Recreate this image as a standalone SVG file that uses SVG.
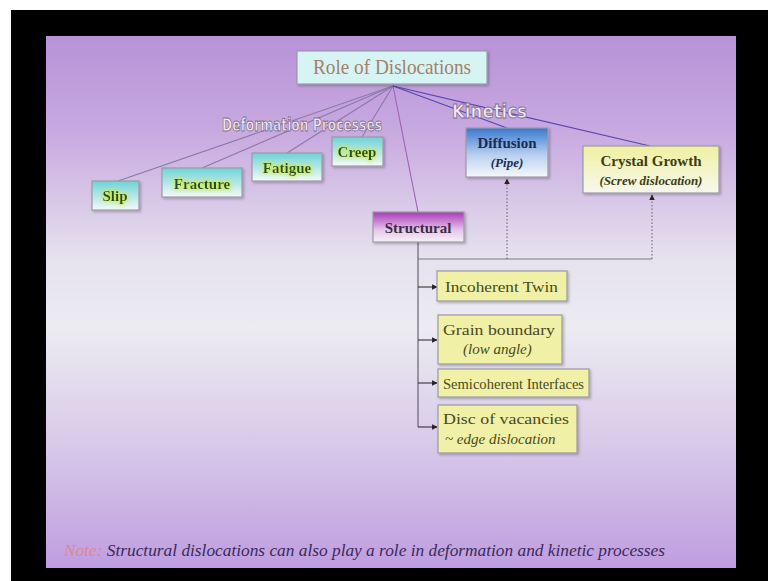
<svg xmlns="http://www.w3.org/2000/svg" width="768" height="581" viewBox="0 0 768 581">
<defs>
<linearGradient id="bg" x1="0" y1="0" x2="0" y2="1">
<stop offset="0" stop-color="#b792d8"/>
<stop offset="0.18" stop-color="#c8a9e0"/>
<stop offset="0.42" stop-color="#e6e2ee"/>
<stop offset="0.55" stop-color="#ecebf1"/>
<stop offset="0.78" stop-color="#d6c7e8"/>
<stop offset="1" stop-color="#bf9de0"/>
</linearGradient>
<linearGradient id="cyan" x1="0" y1="0" x2="0" y2="1">
<stop offset="0" stop-color="#6fd2d6"/>
<stop offset="1" stop-color="#f4fafa"/>
</linearGradient>
<linearGradient id="blue" x1="0" y1="0" x2="0" y2="1">
<stop offset="0" stop-color="#3a78d0"/>
<stop offset="0.55" stop-color="#b8d0ee"/>
<stop offset="1" stop-color="#f6f8fc"/>
</linearGradient>
<linearGradient id="mag" x1="0" y1="0" x2="0" y2="1">
<stop offset="0" stop-color="#a838b8"/>
<stop offset="0.6" stop-color="#e6c6ea"/>
<stop offset="1" stop-color="#f6f2f6"/>
</linearGradient>
<linearGradient id="yel" x1="0" y1="0" x2="0" y2="1">
<stop offset="0" stop-color="#f0f0a0"/>
<stop offset="1" stop-color="#f8f8ee"/>
</linearGradient>
<filter id="glow" x="-20%" y="-40%" width="140%" height="180%">
<feMorphology in="SourceAlpha" operator="dilate" radius="1" result="d"/>
<feGaussianBlur in="d" stdDeviation="2" result="b"/>
<feFlood flood-color="#d0ec40" flood-opacity="0.85"/>
<feComposite in2="b" operator="in" result="g"/>
<feMerge><feMergeNode in="g"/><feMergeNode in="SourceGraphic"/></feMerge>
</filter>
<filter id="sh" x="-10%" y="-10%" width="130%" height="140%">
<feDropShadow dx="1.5" dy="1.5" stdDeviation="1" flood-color="#000" flood-opacity="0.25"/>
</filter>
<marker id="ah" viewBox="0 0 10 10" refX="9" refY="5" markerWidth="5" markerHeight="5" orient="auto">
<path d="M0,0 L10,5 L0,10 z" fill="#222"/>
</marker>
</defs>
<style>
text{font-family:"Liberation Serif","Times New Roman",serif}
.box{stroke:#9a9aa4;stroke-width:1.2;filter:url(#sh)}
.lab{font-weight:bold;text-anchor:middle}
.grn{fill:#24502c;font-size:15px;filter:url(#glow)}
.yl{font-size:15px;fill:#4a4a1c}
.it{font-style:italic}
.ghost{font-family:"Liberation Sans Narrow","DejaVu Sans Condensed",sans-serif;font-weight:bold;fill:#f2eaf4;stroke:#7e6e8a;stroke-width:0.8}
.ln{fill:none;stroke-width:1.1}
</style>
<rect x="0" y="0" width="768" height="581" fill="#ffffff"/>
<rect x="11" y="10" width="757" height="571" fill="#000000"/>
<rect x="46" y="36" width="690" height="532" fill="url(#bg)"/>

<g id="connectors">
<path class="ln" stroke="#8c78a8" d="M393,86 L118,181"/>
<path class="ln" stroke="#8c78a8" d="M393,86 L202,168"/>
<path class="ln" stroke="#8c78a8" d="M393,86 L287,153"/>
<path class="ln" stroke="#8c78a8" d="M393,86 L362,137"/>
<path class="ln" stroke="#a060b4" d="M393,86 L418,212"/>
<path class="ln" stroke="#4a4ab0" d="M393,86 L507,128"/>
<path class="ln" stroke="#5a44b0" d="M393,86 L650,146"/>
<path class="ln" stroke="#5a5a66" d="M418,242 L418,427"/>
<path class="ln" stroke="#7a7a84" d="M418,259 L652,259"/>
<path class="ln" stroke="#6a6a74" stroke-dasharray="1.5,2" marker-end="url(#ah)" d="M507,259 L507,179"/>
<path class="ln" stroke="#6a6a74" stroke-dasharray="1.5,2" marker-end="url(#ah)" d="M652,259 L652,195"/>
<path class="ln" stroke="#333" marker-end="url(#ah)" d="M418,287 L437,287"/>
<path class="ln" stroke="#333" marker-end="url(#ah)" d="M418,340 L437,340"/>
<path class="ln" stroke="#333" marker-end="url(#ah)" d="M418,383 L437,383"/>
<path class="ln" stroke="#333" marker-end="url(#ah)" d="M418,427 L437,427"/>
</g>

<g id="title">
<rect class="box" x="297" y="51" width="190" height="33" fill="#d6f4f4" stroke="#7090a8"/>
<text x="392" y="74" font-size="21" fill="#a4806a" text-anchor="middle" textLength="158" lengthAdjust="spacingAndGlyphs">Role of Dislocations</text>
</g>

<g id="label-deformation">
<text class="ghost" x="222" y="131" font-size="18" textLength="160" lengthAdjust="spacingAndGlyphs">Deformation Processes</text>
</g>
<g id="label-kinetics">
<text class="ghost" x="452" y="118" font-size="20" textLength="75" lengthAdjust="spacingAndGlyphs">Kinetics</text>
</g>

<g id="slip">
<rect class="box" x="92" y="181" width="47" height="29" fill="url(#cyan)"/>
<text class="lab grn" x="115" y="201">Slip</text>
</g>
<g id="fracture">
<rect class="box" x="162" y="168" width="80" height="29" fill="url(#cyan)"/>
<text class="lab grn" x="202" y="189">Fracture</text>
</g>
<g id="fatigue">
<rect class="box" x="252" y="153" width="70" height="28" fill="url(#cyan)"/>
<text class="lab grn" x="287" y="173">Fatigue</text>
</g>
<g id="creep">
<rect class="box" x="332" y="137" width="51" height="29" fill="url(#cyan)"/>
<text class="lab grn" x="357" y="157">Creep</text>
</g>

<g id="structural">
<rect class="box" x="373" y="212" width="91" height="30" fill="url(#mag)"/>
<text class="lab" x="418" y="233" font-size="15" fill="#3a2c40">Structural</text>
</g>

<g id="diffusion">
<rect class="box" x="466" y="128" width="82" height="49" fill="url(#blue)"/>
<text class="lab" x="507" y="148" font-size="15" fill="#1c2a52">Diffusion</text>
<text class="lab it" x="507" y="167" font-size="13" fill="#1c2a52">(Pipe)</text>
</g>

<g id="crystal-growth">
<rect class="box" x="583" y="146" width="136" height="47" fill="url(#yel)"/>
<text class="lab" x="651" y="166" font-size="15" fill="#3c3c14">Crystal Growth</text>
<text class="lab it" x="651" y="185" font-size="13" fill="#3c3c14">(Screw dislocation)</text>
</g>

<g id="incoherent-twin">
<rect class="box" x="437" y="271" width="130" height="30" fill="#f0f0a6"/>
<text class="yl" x="445" y="292" textLength="113" lengthAdjust="spacingAndGlyphs">Incoherent Twin</text>
</g>
<g id="grain-boundary">
<rect class="box" x="438" y="315" width="124" height="49" fill="#f0f0a6"/>
<text class="yl" x="443" y="335" textLength="112" lengthAdjust="spacingAndGlyphs">Grain boundary</text>
<text class="yl it" x="463" y="354" font-size="13">(low angle)</text>
</g>
<g id="semicoherent">
<rect class="box" x="438" y="369" width="151" height="28" fill="#f0f0a6"/>
<text class="yl" x="443" y="389" textLength="141" lengthAdjust="spacingAndGlyphs">Semicoherent Interfaces</text>
</g>
<g id="disc-vacancies">
<rect class="box" x="438" y="405" width="139" height="48" fill="#f0f0a6"/>
<text class="yl" x="443" y="424" textLength="126" lengthAdjust="spacingAndGlyphs">Disc of vacancies</text>
<text class="yl it" x="445" y="444" font-size="12.5">~ edge dislocation</text>
</g>

<g id="note">
<text x="64" y="556" font-size="16.5" font-style="italic" textLength="601" lengthAdjust="spacingAndGlyphs"><tspan fill="#e08890">Note: </tspan><tspan fill="#3a2a5a">Structural dislocations can also play a role in deformation and kinetic processes</tspan></text>
</g>
</svg>
